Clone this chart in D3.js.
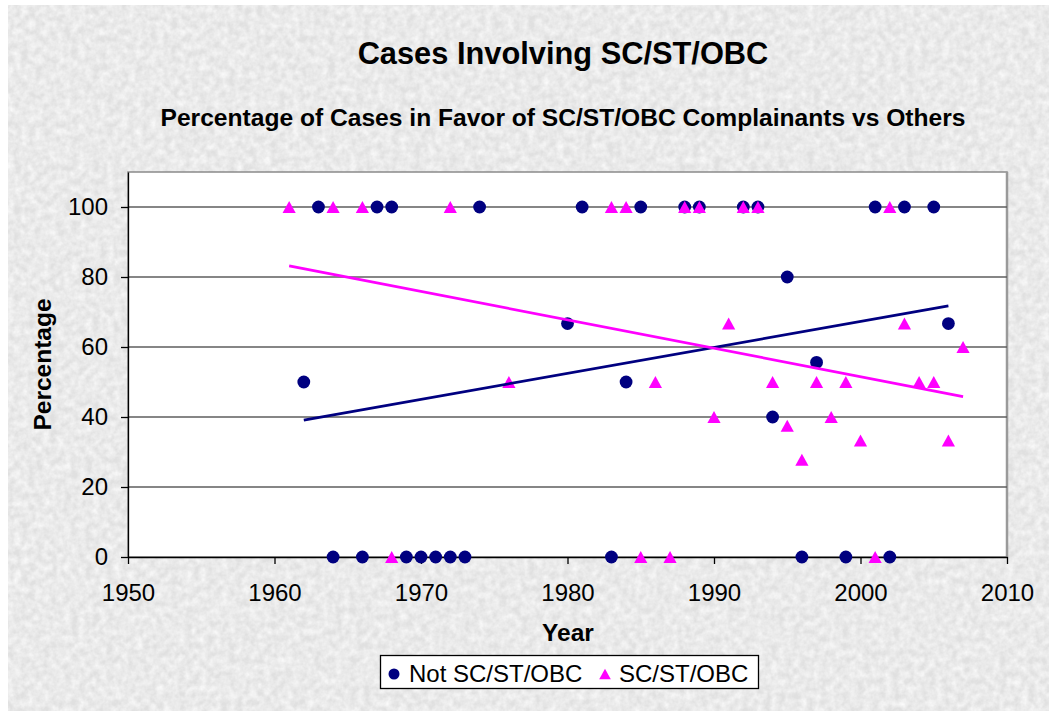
<!DOCTYPE html>
<html lang="en">
	<head>
		<meta charset="utf-8">
		<title>Cases Involving SC/ST/OBC</title>
		<script type="text/javascript" src="https://cdn.jsdelivr.net/npm/d3@7"></script>
		<style type="text/css">
			body { margin: 0; background: #ffffff; }
			text { font-family: "Liberation Sans", Arial, sans-serif; fill: #000; }
			.axis text { font-size: 24px; }
			.axis path, .axis line { stroke: #000; stroke-width: 1.3; }
		</style>
	</head>
	<body>
		<script type="text/javascript">
			//Width and height
			var w = 1049;
			var h = 711;

			//Data: year, percentage
			var notYears = [1962, 1963, 1964, 1966, 1967, 1968, 1969, 1970, 1971, 1972, 1973, 1974,
				1980, 1981, 1983, 1984, 1985, 1988, 1989, 1992, 1993, 1994, 1995, 1996, 1997,
				1999, 2001, 2002, 2003, 2005, 2006];
			var notValues = [50, 100, 0, 0, 100, 100, 0, 0, 0, 0, 0, 100,
				66.7, 100, 0, 50, 100, 100, 100, 100, 100, 40, 80, 0, 55.6,
				0, 100, 0, 100, 100, 66.7];

			var scYears = [1961, 1964, 1966, 1968, 1972, 1976, 1983, 1984, 1985, 1986, 1987,
				1988, 1989, 1990, 1991, 1992, 1993, 1994, 1995, 1996, 1997, 1998, 1999,
				2000, 2001, 2002, 2003, 2004, 2005, 2006, 2007];
			var scValues = [100, 100, 100, 0, 100, 50, 100, 100, 0, 50, 0,
				100, 100, 40, 66.7, 100, 100, 50, 37.5, 27.8, 50, 40, 50,
				33.3, 0, 100, 66.7, 50, 50, 33.3, 60];

			var seriesNames = ["Not SC/ST/OBC", "SC/ST/OBC"];
			var xTicks = [1950, 1960, 1970, 1980, 1990, 2000, 2010];
			var yTicks = [0, 20, 40, 60, 80, 100];

			var navy = "#000080";
			var pink = "#ff00ff";

			var plot = { left: 128, right: 1007, top: 172, bottom: 557 };

			//scales
			var xScale = d3.scaleLinear()
							.domain([1950, 2010])
							.range([plot.left, plot.right]);
			var yScale = d3.scaleLinear()
							.domain([0, 110])
							.range([plot.bottom, plot.top]);

			var svg = d3.select("body")
						.append("svg")
						.attr("width", w)
						.attr("height", h);

			//granite-like background
			var defs = svg.append("defs");
			var filt = defs.append("filter")
				.attr("id", "tex")
				.attr("x", 0).attr("y", 0).attr("width", "100%").attr("height", "100%");
			filt.append("feTurbulence")
				.attr("type", "fractalNoise")
				.attr("baseFrequency", "0.14")
				.attr("numOctaves", 3)
				.attr("seed", 4);
			filt.append("feColorMatrix")
				.attr("type", "matrix")
				.attr("values", "0 0 0 0 1  0 0 0 0 1  0 0 0 0 1  1.2 0 0 0 -0.28");

			svg.append("rect")
				.attr("x", 8).attr("y", 5)
				.attr("width", w - 8).attr("height", h - 5)
				.attr("fill", "#e0e0e0");
			svg.append("rect")
				.attr("x", 8).attr("y", 5)
				.attr("width", w - 8).attr("height", h - 5)
				.attr("filter", "url(#tex)");

			//plot area
			svg.append("rect")
				.attr("x", plot.left)
				.attr("y", plot.top)
				.attr("width", plot.right - plot.left)
				.attr("height", plot.bottom - plot.top)
				.attr("fill", "#ffffff")
				.attr("stroke", "#8a8a8a")
				.attr("stroke-width", 1.5);
			svg.append("line")
				.attr("x1", plot.right).attr("x2", plot.right)
				.attr("y1", plot.top).attr("y2", plot.bottom)
				.attr("stroke", "#9a9a9a")
				.attr("stroke-width", 2.5);

			//gridlines
			svg.append("g")
				.selectAll("line")
				.data(yTicks.filter(function(d) { return d > 0; }))
				.enter()
				.append("line")
				.attr("x1", plot.left)
				.attr("x2", plot.right)
				.attr("y1", function(d) { return yScale(d); })
				.attr("y2", function(d) { return yScale(d); })
				.attr("stroke", "#5e5e5e")
				.attr("stroke-width", 1.3);

			//axes
			var xAxis = d3.axisBottom(xScale)
							.tickValues(xTicks)
							.tickFormat(d3.format("d"))
							.tickSizeInner(7)
							.tickSizeOuter(0)
							.tickPadding(20);
			var yAxis = d3.axisLeft(yScale)
							.tickValues(yTicks)
							.tickSizeInner(7)
							.tickSizeOuter(0)
							.tickPadding(13);

			svg.append("g")
				.attr("class", "x axis")
				.attr("transform", "translate(0," + plot.bottom + ")")
				.call(xAxis);
			svg.append("g")
				.attr("class", "y axis")
				.attr("transform", "translate(" + plot.left + ",0)")
				.call(yAxis);
			svg.selectAll(".axis").attr("font-family", null).attr("font-size", null);

			//markers
			var tri = function(cx, cy, s) {
				return "M" + cx + "," + (cy - s * 0.92) +
					"L" + (cx + s) + "," + (cy + s * 0.92) +
					"L" + (cx - s) + "," + (cy + s * 0.92) + "Z";
			};

			svg.append("g")
				.attr("id", "not-points")
				.selectAll("circle")
				.data(notYears)
				.enter()
				.append("circle")
				.attr("cx", function(d) { return xScale(d); })
				.attr("cy", function(d, i) { return yScale(notValues[i]); })
				.attr("r", 6.4)
				.attr("fill", navy);

			svg.append("g")
				.attr("id", "sc-points")
				.selectAll("path")
				.data(scYears)
				.enter()
				.append("path")
				.attr("d", function(d, i) { return tri(xScale(d), yScale(scValues[i]), 6.6); })
				.attr("fill", pink);

			//linear trendlines (least squares)
			var fit = function(xs, ys) {
				var mx = d3.mean(xs), my = d3.mean(ys);
				var sxy = d3.sum(xs, function(x, i) { return (x - mx) * (ys[i] - my); });
				var sxx = d3.sum(xs, function(x) { return (x - mx) * (x - mx); });
				var b = sxy / sxx;
				var ext = d3.extent(xs);
				return ext.map(function(x) { return [x, my + b * (x - mx)]; });
			};
			var line = d3.line()
				.x(function(d) { return xScale(d[0]); })
				.y(function(d) { return yScale(d[1]); });

			svg.append("path")
				.attr("d", line(fit(notYears, notValues)))
				.attr("stroke", navy)
				.attr("stroke-width", 2.7)
				.attr("fill", "none");
			svg.append("path")
				.attr("d", line(fit(scYears, scValues)))
				.attr("stroke", pink)
				.attr("stroke-width", 2.7)
				.attr("fill", "none");

			//titles
			svg.append("text")
				.attr("x", 563)
				.attr("y", 64)
				.attr("text-anchor", "middle")
				.attr("font-size", "30.8px")
				.attr("font-weight", "bold")
				.text("Cases Involving SC/ST/OBC");
			svg.append("text")
				.attr("x", 563)
				.attr("y", 126)
				.attr("text-anchor", "middle")
				.attr("font-size", "24.6px")
				.attr("font-weight", "bold")
				.text("Percentage of Cases in Favor of SC/ST/OBC Complainants vs Others");
			svg.append("text")
				.attr("x", 568)
				.attr("y", 641)
				.attr("text-anchor", "middle")
				.attr("font-size", "24.5px")
				.attr("font-weight", "bold")
				.text("Year");
			svg.append("text")
				.attr("transform", "translate(51," + ((plot.top + plot.bottom) / 2) + ") rotate(-90)")
				.attr("text-anchor", "middle")
				.attr("font-size", "24.5px")
				.attr("font-weight", "bold")
				.text("Percentage");

			//legend
			var legend = svg.append("g").attr("id", "legend");
			legend.append("rect")
				.attr("x", 380.5).attr("y", 655.5)
				.attr("width", 378).attr("height", 33)
				.attr("fill", "#ffffff")
				.attr("stroke", "#000")
				.attr("stroke-width", 1.3);
			legend.append("circle")
				.attr("cx", 394).attr("cy", 674)
				.attr("r", 5.5)
				.attr("fill", navy);
			legend.append("path")
				.attr("d", tri(605, 674, 5.8))
				.attr("fill", pink);
			legend.selectAll("text.lbl")
				.data(seriesNames)
				.enter()
				.append("text")
				.attr("class", "lbl")
				.attr("x", function(d, i) { return i === 0 ? 409 : 619; })
				.attr("y", 682)
				.attr("font-size", "24px")
				.text(function(d) { return d; });
		</script>
	</body>
</html>
